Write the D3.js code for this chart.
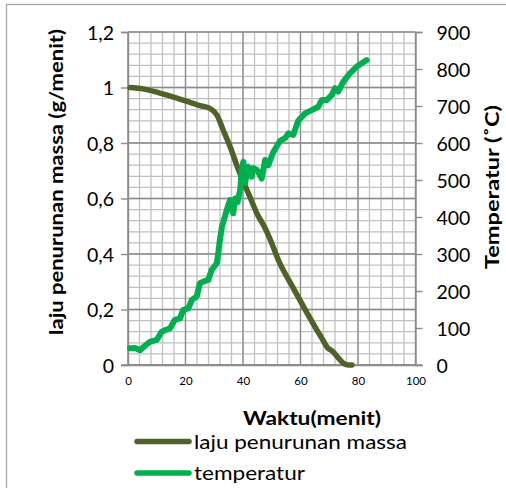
<!DOCTYPE html>
<html><head><meta charset="utf-8">
<script src="https://cdn.jsdelivr.net/npm/d3@7"></script>
<style>
body{margin:0;background:#fff;}
svg{display:block;font-family:Lato,"Open Sans",sans-serif;}
</style></head>
<body>
<svg id="chart" width="506" height="488"></svg>
<script>
// ---- data ----
const xTicks = [0, 20, 40, 60, 80, 100];
const yLeftTicks = [0, 0.2, 0.4, 0.6, 0.8, 1, 1.2];
const yLeftLabels = ["0", "0,2", "0,4", "0,6", "0,8", "1", "1,2"];
const yRightTicks = [0, 100, 200, 300, 400, 500, 600, 700, 800, 900];

const massTime = [0.7, 5.2, 11.1, 17, 22, 25, 28.5, 30.9, 33.1, 35.5, 37.8, 40.1, 42.4, 44.8, 47.7, 50.0, 52.3, 54, 56.9, 59.8, 62.8, 65.7, 67.5, 69.2, 71.4, 73.2, 74.8, 76.5, 77.9];
const massRate = [1.0, 0.995, 0.98, 0.962, 0.945, 0.935, 0.925, 0.901, 0.847, 0.787, 0.721, 0.661, 0.606, 0.547, 0.493, 0.439, 0.378, 0.342, 0.288, 0.234, 0.178, 0.126, 0.095, 0.065, 0.047, 0.025, 0.007, 0.0, 0.0];

const tempTime = [0.7, 2.4, 4.2, 5.9, 7.7, 10.0, 11.7, 13.2, 14.6, 16.3, 18.1, 19.2, 21.0, 22.2, 23.9, 25.0, 26.4, 27.9, 29.1, 30.9, 31.4, 32.0, 32.7, 33.7, 34.8, 35.5, 36.6, 37.2, 38.1, 39.0, 39.5, 40.1, 40.7, 41.8, 43.0, 43.6, 44.8, 45.3, 46.5, 47.7, 48.8, 50.5, 52.9, 54.6, 55.8, 57.5, 59.2, 61.6, 63.9, 66.2, 67.4, 69.1, 70.9, 72.0, 73.1, 74.9, 77.2, 79.5, 83.0];
const tempVal = [45, 46, 40, 52, 63, 68, 90, 95, 99, 122, 126, 149, 153, 176, 185, 221, 226, 230, 257, 275, 302, 340, 375, 401, 430, 446, 410, 450, 440, 473, 520, 549, 491, 536, 509, 532, 527, 522, 504, 554, 540, 575, 606, 613, 626, 622, 660, 680, 689, 698, 716, 716, 730, 748, 739, 766, 788, 806, 824];

const seriesNames = ["laju penurunan massa", "temperatur"];
const seriesColors = ["#4F6228", "#00B050"];

// ---- layout ----
const svg = d3.select("#chart");
const x = d3.scaleLinear().domain([0, 100]).range([128, 415.5]);
const yL = d3.scaleLinear().domain([0, 1.2]).range([365, 32]);
const yR = d3.scaleLinear().domain([0, 900]).range([365, 32]);

// chart border
svg.append("rect").attr("x", 6.5).attr("y", 4.5).attr("width", 530).attr("height", 520)
  .attr("fill", "none").attr("stroke", "#A6A6A6").attr("stroke-width", 1.3);

// grid
const g = svg.append("g");
const minorX = d3.range(0, 100.001, 4);
const minorY = d3.range(0, 1.2001, 0.04);
g.selectAll(".mx").data(minorX).join("line")
  .attr("x1", d => x(d)).attr("x2", d => x(d)).attr("y1", yL(0)).attr("y2", yL(1.2))
  .attr("stroke", "#C0C0C0").attr("stroke-width", 1.3);
g.selectAll(".my").data(minorY).join("line")
  .attr("x1", x(0)).attr("x2", x(100)).attr("y1", d => yL(d)).attr("y2", d => yL(d))
  .attr("stroke", "#C0C0C0").attr("stroke-width", 1.3);
g.selectAll(".Mx").data(xTicks).join("line")
  .attr("x1", d => x(d)).attr("x2", d => x(d)).attr("y1", yL(0)).attr("y2", yL(1.2))
  .attr("stroke", "#8C8C8C").attr("stroke-width", 1.3);
g.selectAll(".My").data(yLeftTicks).join("line")
  .attr("x1", x(0)).attr("x2", x(100)).attr("y1", d => yL(d)).attr("y2", d => yL(d))
  .attr("stroke", "#8C8C8C").attr("stroke-width", 1.3);

// axes
const axL = svg.append("g").attr("transform", `translate(${x(0)},0)`)
  .call(d3.axisLeft(yL).tickValues(yLeftTicks).tickSize(7).tickPadding(7)
    .tickFormat((d, i) => yLeftLabels[i]));
const axR = svg.append("g").attr("transform", `translate(${x(100)},0)`)
  .call(d3.axisRight(yR).tickValues(yRightTicks).tickSize(7).tickPadding(14));
const axB = svg.append("g").attr("transform", `translate(0,${yL(0)})`)
  .call(d3.axisBottom(x).tickValues(xTicks).tickSize(0).tickPadding(12));
[axL, axR, axB].forEach(a => {
  a.select(".domain").attr("stroke", "#8C8C8C").attr("stroke-width", 1.4);
  a.selectAll(".tick line").attr("stroke", "#8C8C8C").attr("stroke-width", 1.4);
  a.selectAll("text").attr("fill", "#000").style("font-family", "Lato, sans-serif");
});
axL.selectAll("text").style("font-size", "19.5px").attr("dy", "0.36em");
axR.selectAll("text").style("font-size", "19.5px").attr("dy", "0.36em");
axB.selectAll("text").style("font-size", "11.5px");
// extend bottom axis line to the tick ends
svg.append("line").attr("x1", x(0) - 7).attr("x2", x(100) + 7).attr("y1", yL(0)).attr("y2", yL(0))
  .attr("stroke", "#8C8C8C").attr("stroke-width", 1.4);

// lines
const massLine = d3.line().x(d => x(d[0])).y(d => yL(d[1])).curve(d3.curveMonotoneX);
const tempLine = d3.line().x(d => x(d[0])).y(d => yR(d[1])).curve(d3.curveLinear);
svg.append("path").datum(massTime.map((t, i) => [t, massRate[i]]))
  .attr("d", massLine).attr("fill", "none").attr("stroke", seriesColors[0])
  .attr("stroke-width", 5.5).attr("stroke-linejoin", "round").attr("stroke-linecap", "round");
svg.append("path").datum(tempTime.map((t, i) => [t, tempVal[i]]))
  .attr("d", tempLine).attr("fill", "none").attr("stroke", seriesColors[1])
  .attr("stroke-width", 6).attr("stroke-linejoin", "round").attr("stroke-linecap", "round");

// titles
svg.append("text").attr("x", 312).attr("y", 424.5).attr("text-anchor", "middle")
  .style("font-size", "18.5px").style("font-weight", "bold")
  .attr("textLength", 138).attr("lengthAdjust", "spacingAndGlyphs")
  .text("Waktu(menit)");
svg.append("text").attr("transform", "translate(63,182) rotate(-90)").attr("text-anchor", "middle")
  .style("font-size", "19px").style("font-weight", "bold")
  .attr("textLength", 306).attr("lengthAdjust", "spacingAndGlyphs")
  .text("laju penurunan massa (g/menit)");
svg.append("text").attr("transform", "translate(499,187) rotate(-90)").attr("text-anchor", "middle")
  .style("font-size", "19px").style("font-weight", "bold")
  .attr("textLength", 164).attr("lengthAdjust", "spacingAndGlyphs")
  .text("Temperatur (˚C)");

// legend
const leg = svg.append("g");
const legY = [441.5, 473];
const legLen = [213, 111];
seriesNames.forEach((n, i) => {
  leg.append("line").attr("x1", 137).attr("x2", 189).attr("y1", legY[i]).attr("y2", legY[i])
    .attr("stroke", seriesColors[i]).attr("stroke-width", 5.5).attr("stroke-linecap", "round");
  leg.append("text").attr("x", 194).attr("y", legY[i] + 7)
    .style("font-size", "20px")
    .attr("textLength", legLen[i]).attr("lengthAdjust", "spacingAndGlyphs")
    .text(n);
});
</script>
</body></html>
